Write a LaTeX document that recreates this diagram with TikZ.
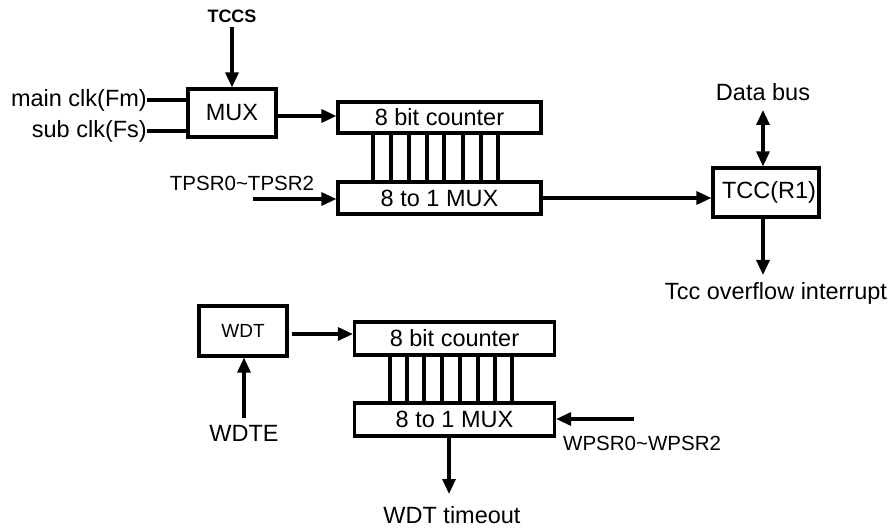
\documentclass[tikz,border=0pt]{standalone}
\usepackage{fontspec}
\setmainfont{Liberation Sans}
\usetikzlibrary{arrows.meta}
\begin{document}
\begin{tikzpicture}[x=1pt,y=-1pt,
  blk/.style={draw,line width=3.2pt,inner sep=0pt},
  wire/.style={line width=3.2pt},
  arr/.style={line width=3.2pt,-{Triangle[length=15pt,width=13pt]}},
  darr/.style={line width=3.2pt,{Triangle[length=15pt,width=13pt]}-{Triangle[length=15pt,width=13pt]}},
  lbl/.style={font=\fontsize{23.5}{26}\selectfont,inner sep=0pt},
  sml/.style={font=\fontsize{20.5}{23}\selectfont,inner sep=0pt}]
\useasboundingbox (0,0) rectangle (892,529);
% top section
\node[font=\fontsize{18}{20}\selectfont\bfseries,inner sep=0pt] (tccs) at (232,16) {TCCS};
\node[blk,minimum width=88pt,minimum height=48pt,lbl] (mux) at (232,113) {MUX};
\node[lbl,anchor=east] (mclk) at (147,100) {main clk(Fm)};
\node[lbl,anchor=east] (sclk) at (147,131) {sub clk(Fs)};
\coordinate (tccsb) at (232,27);
\draw[arr] (tccsb) -- (mux.north);
\draw[wire] (mclk.east) -- (mux.west |- mclk.east);
\draw[wire] (sclk.east) -- (mux.west |- sclk.east);
\node[blk,minimum width=203pt,minimum height=31pt,lbl] (cnt1) at (439.5,117.5) {8 bit counter};
\node[blk,minimum width=203pt,minimum height=32pt,lbl] (mx1) at (439.5,198) {8 to 1 MUX};
\draw[arr] (mux.east |- 0,116) -- (cnt1.west |- 0,116);
\foreach \x in {373,391,409,427,444,463,481,498} {
  \draw[wire] (\x,133) -- (\x,182);
}
\node[sml] (tpsr) at (242,183) {TPSR0\textasciitilde TPSR2};
\coordinate (tpsrs) at (253,199);
\draw[arr] (tpsrs) -- (mx1.west |- tpsrs);
\node[blk,minimum width=106pt,minimum height=49pt] (tcc) at (766,192.5) {};
\node[lbl] (tcct) at (769,192) {TCC(R1)};
\draw[arr] (mx1.east |- 0,198) -- (tcc.west |- 0,198);
\node[lbl] (dbus) at (763,92) {Data bus};
\coordinate (dbs) at (763,110);
\draw[darr] (dbs) -- (tcc.north -| dbs);
\node[lbl] (tovf) at (776,293) {Tcc overflow interrupt};
\coordinate (tove) at (763,275);
\draw[arr] (tcc.south -| tove) -- (tove);
% bottom section
\node[blk,minimum width=88pt,minimum height=50pt,font=\fontsize{19}{21}\selectfont] (wdt) at (243,331) {WDT};
\node[blk,minimum width=200pt,minimum height=33pt,lbl] (cnt2) at (454.5,338.5) {8 bit counter};
\node[blk,minimum width=200pt,minimum height=33pt,lbl] (mx2) at (454.5,419.5) {8 to 1 MUX};
\coordinate (wdts) at (292,334);
\draw[arr] (wdts) -- (cnt2.west |- wdts);
\foreach \x in {390,407,424,442,460,478,495,512} {
  \draw[wire] (\x,355) -- (\x,403);
}
\node[lbl] (wdte) at (244,433) {WDTE};
\coordinate (wdtes) at (244,418);
\draw[arr] (wdtes) -- (wdtes |- wdt.south);
\coordinate (wpsrs) at (634,419);
\draw[arr] (wpsrs) -- (mx2.east |- wpsrs);
\node[sml,anchor=west] (wpsr) at (563,443) {WPSR0\textasciitilde WPSR2};
\coordinate (wto) at (449,494);
\draw[arr] (mx2.south -| wto) -- (wto);
\node[lbl] (wtot) at (452,515) {WDT timeout};
\end{tikzpicture}
\end{document}
